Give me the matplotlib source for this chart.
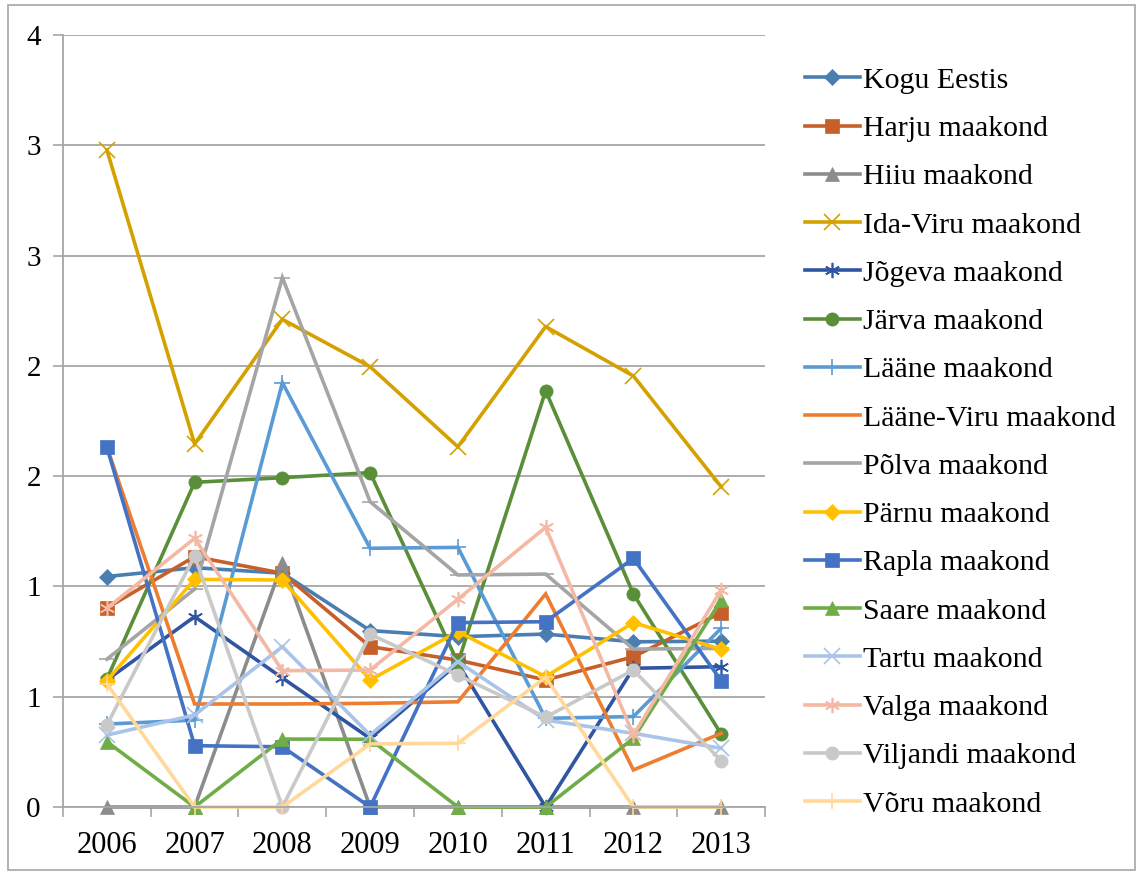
import numpy as np
import matplotlib.pyplot as plt
from matplotlib.patches import Rectangle

plt.rcParams['font.family'] = ['Liberation Serif', 'DejaVu Serif']

years = ["2006", "2007", "2008", "2009", "2010", "2011", "2012", "2013"]

# values (axis runs 0..3.5)
kogu_eestis = [1.045, 1.085, 1.06, 0.80, 0.772, 0.784, 0.749, 0.752]
harju = [0.903, 1.135, 1.06, 0.727, 0.666, 0.576, 0.681, 0.881]
hiiu = [0, 0, 1.106, 0, 0, 0, 0, 0]
ida_viru = [2.979, 1.646, 2.211, 1.996, 1.633, 2.178, 1.954, 1.452]
jogeva = [0.576, 0.863, 0.585, 0.311, 0.651, 0, 0.629, 0.636]
jarva = [0.580, 1.472, 1.493, 1.516, 0.653, 1.887, 0.966, 0.331]
laane = [0.376, 0.394, 1.924, 1.173, 1.177, 0.402, 0.410, 0.810]
laane_viru = [1.633, 0.467, 0.467, 0.470, 0.477, 0.966, 0.168, 0.334]
polva = [0.670, 0.988, 2.400, 1.384, 1.052, 1.056, 0.716, 0.719]
parnu = [0.573, 1.032, 1.029, 0.576, 0.795, 0.591, 0.836, 0.715]
rapla = [1.632, 0.278, 0.273, 0, 0.836, 0.840, 1.127, 0.573]
saare = [0.296, 0, 0.308, 0.307, 0, 0, 0.311, 0.938]
tartu = [0.326, 0.417, 0.727, 0.326, 0.659, 0.394, 0.334, 0.266]
valga = [0.901, 1.218, 0.618, 0.621, 0.942, 1.268, 0.326, 0.984]
viljandi = [0.372, 1.138, 0, 0.783, 0.598, 0.407, 0.621, 0.210]
voru = [0.558, 0, 0, 0.286, 0.289, 0.588, 0, 0]

ytick_labels = ["0", "1", "1", "2", "2", "3", "3", "4"]

star = (6, 2, 0)
series = [
    ("Kogu Eestis", kogu_eestis, "#4A7EB0", "D", 8.5),
    ("Harju maakond", harju, "#C65F2A", "s", 10.5),
    ("Hiiu maakond", hiiu, "#8C8C8C", "^", 10.5),
    ("Ida-Viru maakond", ida_viru, "#D4A100", "x", 11),
    ("Jõgeva maakond", jogeva, "#2F55A3", star, 11),
    ("Järva maakond", jarva, "#5A8F3A", "o", 9.5),
    ("Lääne maakond", laane, "#5B9BD5", "+", 11),
    ("Lääne-Viru maakond", laane_viru, "#ED7D31", "None", 0),
    ("Põlva maakond", polva, "#A5A5A5", "_", 12),
    ("Pärnu maakond", parnu, "#FFC000", "D", 8.5),
    ("Rapla maakond", rapla, "#4472C4", "s", 10.5),
    ("Saare maakond", saare, "#70AD47", "^", 10.5),
    ("Tartu maakond", tartu, "#A9C4E8", "x", 11),
    ("Valga maakond", valga, "#F4B9A4", star, 11),
    ("Viljandi maakond", viljandi, "#C9C9C9", "o", 9.5),
    ("Võru maakond", voru, "#FFD89A", "+", 11),
]

fig = plt.figure(figsize=(11.41, 8.73), dpi=100)
ax = fig.add_axes([0.0552, 0.0756, 0.6153, 0.8843])

x = np.arange(len(years))
for name, vals, col, mk, ms in series:
    thin = mk in ("x", "+", "_") or mk == star
    ax.plot(x, vals, color=col, lw=2.6, marker=mk, markersize=ms,
            markeredgewidth=1.2 if thin else 0.5, markeredgecolor=col,
            markerfacecolor=col, label=name, solid_joinstyle="miter", clip_on=False)

ax.set_xlim(-0.5, 7.5)
ax.set_ylim(0, 3.5)
ax.set_yticks(np.arange(0, 3.51, 0.5))
ax.set_yticklabels(ytick_labels)
ax.grid(axis="y", color="#A6A6A6", lw=1.3)
ax.set_axisbelow(True)

ax.set_xticks(x)
ax.set_xticklabels(years)
ax.set_xticks(np.arange(-0.5, 8, 1), minor=True)
ax.tick_params(axis="x", which="major", length=0, pad=17, labelsize=22)
ax.tick_params(axis="x", which="minor", length=7, width=1.2, color="#A6A6A6", direction="out")
ax.tick_params(axis="y", length=7, width=1.2, color="#A6A6A6", pad=9, labelsize=21)

for s in ["top", "right"]:
    ax.spines[s].set_visible(False)
ax.spines["left"].set_color("#A6A6A6")
ax.spines["bottom"].set_color("#A6A6A6")
ax.spines["left"].set_linewidth(1.3)
ax.spines["bottom"].set_linewidth(1.3)

leg = fig.legend(loc="upper left", bbox_to_anchor=(0.695, 0.937), frameon=False,
                 fontsize=21.5, handlelength=1.84, handletextpad=0.1,
                 labelspacing=0.715, borderaxespad=0)

# outer chart border
fig.patches.append(Rectangle((0.007, 0.003), 0.988, 0.991, transform=fig.transFigure,
                             fill=False, edgecolor="#A6A6A6", lw=1.2))

plt.savefig("out.png", dpi=100)
